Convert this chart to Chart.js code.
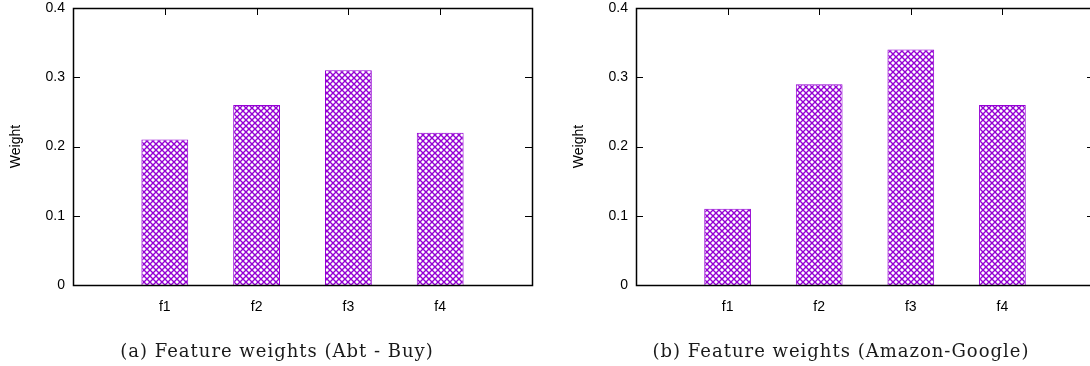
<!DOCTYPE html>
<html>
<head>
<meta charset="utf-8">
<script src="https://cdn.jsdelivr.net/npm/chart.js@4/dist/chart.umd.min.js"></script>
<style>
  html, body { margin: 0; padding: 0; background: #fff; overflow: hidden; }
  body { width: 1090px; height: 366px; position: relative; }
  canvas { position: absolute; top: 0; }
  .caption {
    position: absolute; top: 340px; width: 500px; text-align: center;
    font-family: "DejaVu Serif", serif; font-size: 18px; letter-spacing: 1px; color: #1a1a1a;
  }
</style>
</head>
<body>
<canvas id="chartAbt" width="545" height="366" style="left:0"></canvas>
<canvas id="chartAmazon" width="560" height="366" style="left:545px"></canvas>
<div class="caption" style="left:27px">(a) Feature weights (Abt - Buy)</div>
<div class="caption" style="left:591px">(b) Feature weights (Amazon-Google)</div>

<script>
// feature names and learned weights
var features = ["f1", "f2", "f3", "f4"];
var weightsAbtBuy = [0.21, 0.26, 0.31, 0.22];
var weightsAmazonGoogle = [0.11, 0.29, 0.34, 0.26];
var yTicks = [0, 0.1, 0.2, 0.3, 0.4];
var yTickLabels = ["0", "0.1", "0.2", "0.3", "0.4"];

var violet = "#9400d3";
var fontSans = { family: "'Liberation Sans', Arial, sans-serif", size: 14 };

// cross hatch fill like gnuplot's pattern
function hatch() {
  var c = document.createElement("canvas");
  c.width = 6;
  c.height = 6;
  var g = c.getContext("2d");
  g.fillStyle = "#fff";
  g.fillRect(0, 0, 6, 6);
  g.strokeStyle = violet;
  g.lineWidth = 1.4;
  g.beginPath();
  g.moveTo(-1, -1); g.lineTo(7, 7);
  g.moveTo(7, -1); g.lineTo(-1, 7);
  g.stroke();
  return g.createPattern(c, "repeat");
}

// box around plot + inward ticks (left, right mirror, top mirror)
var frame = {
  id: "frame",
  afterDraw: function (chart) {
    var a = chart.chartArea;
    var x = chart.scales.x, y = chart.scales.y;
    var ctx = chart.ctx;
    ctx.save();
    ctx.strokeStyle = "#000";
    ctx.lineWidth = 1;
    ctx.beginPath();
    yTicks.forEach(function (v) {
      var py = Math.round(y.getPixelForValue(v)) + 0.5;
      ctx.moveTo(a.left, py); ctx.lineTo(a.left + 7, py);
      ctx.moveTo(a.right, py); ctx.lineTo(a.right - 7, py);
    });
    features.forEach(function (f, i) {
      var px = Math.round(x.getPixelForValue(i + 1)) + 0.5;
      ctx.moveTo(px, a.top); ctx.lineTo(px, a.top + 7);
    });
    ctx.stroke();
    ctx.lineWidth = 1.5;
    ctx.strokeRect(Math.round(a.left) + 0.5, Math.round(a.top) + 0.5,
      Math.round(a.right - a.left), Math.round(a.bottom - a.top));
    ctx.restore();
  }
};

function makeChart(id, values, axisWidth, titlePad, rightPad) {
  var ctx = document.getElementById(id).getContext("2d");
  var labels = [""].concat(features, [""]);
  var data = [null].concat(values, [null]);
  return new Chart(ctx, {
    type: "bar",
    data: {
      labels: labels,
      datasets: [{
        data: data,
        backgroundColor: hatch(),
        borderColor: violet,
        borderWidth: 1,
        barPercentage: 0.51,
        categoryPercentage: 1
      }]
    },
    options: {
      responsive: false,
      animation: false,
      devicePixelRatio: 1,
      layout: { padding: { left: 0, right: rightPad, top: 8, bottom: 0 } },
      plugins: { legend: { display: false }, tooltip: { enabled: false } },
      scales: {
        x: {
          type: "category",
          offset: false,
          grid: { display: false, drawTicks: false },
          border: { display: false },
          ticks: { font: fontSans, color: "#000", padding: 14, maxRotation: 0, autoSkip: false },
          afterFit: function (s) {
            s.height = 81;
            s.paddingLeft = 0;
            s.paddingRight = 0;
          }
        },
        y: {
          min: 0,
          max: 0.4,
          grid: { display: false, drawTicks: false },
          border: { display: false },
          afterBuildTicks: function (s) {
            s.ticks = yTicks.map(function (v) { return { value: v }; });
          },
          ticks: {
            font: fontSans,
            color: "#000",
            padding: 8,
            callback: function (v, i) { return yTickLabels[i]; }
          },
          title: {
            display: true,
            text: "Weight",
            font: fontSans,
            color: "#000",
            padding: { top: titlePad, bottom: 0 }
          },
          afterFit: function (s) {
            s.width = axisWidth;
            // let the 0.4 label overhang the plot top
            s.paddingTop = 0;
            s.paddingBottom = 0;
          }
        }
      }
    },
    plugins: [frame]
  });
}

makeChart("chartAbt", weightsAbtBuy, 73, 7.4, 13);
makeChart("chartAmazon", weightsAmazonGoogle, 91, 25.6, 11);
</script>
</body>
</html>
